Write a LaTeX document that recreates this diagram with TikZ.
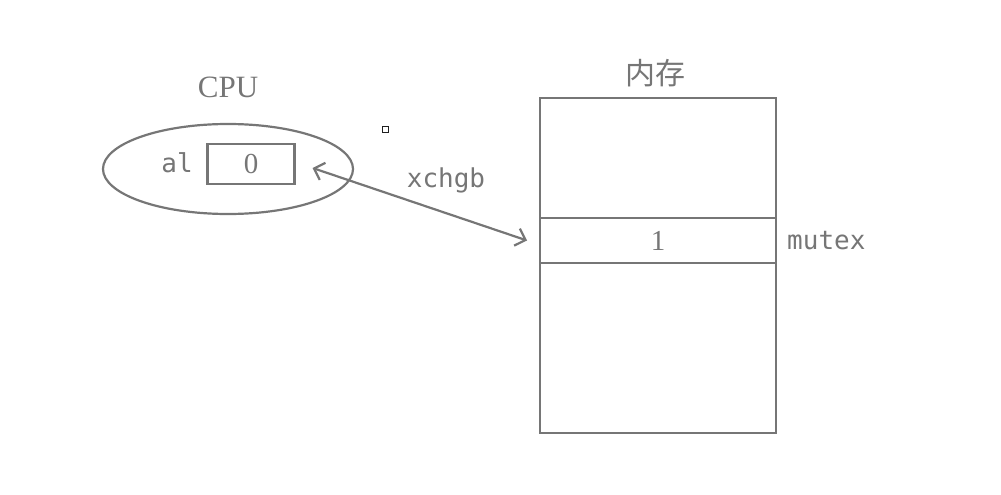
\documentclass[tikz,border=0pt]{standalone}
\usepackage{fontspec}
\setmainfont{Liberation Serif}
\setmonofont{DejaVu Sans Mono}
\newfontfamily\cjk{Noto Sans CJK SC}
\usetikzlibrary{arrows.meta, positioning, shapes.geometric}
\definecolor{ink}{HTML}{767676}
\definecolor{handle}{HTML}{202020}
\tikzset{
  %
  cpubox/.style={draw=ink, line width=2.2pt, ellipse, inner sep=0pt,
                 minimum width=250pt, minimum height=90pt},
  reg/.style={draw=ink, line width=2.2pt, inner sep=0pt, text=ink,
              minimum width=87pt, minimum height=40pt,
              font=\fontsize{29}{31}\selectfont},
  cell/.style={draw=ink, line width=2.2pt, inner sep=0pt, outer sep=0pt,
               text=ink, minimum width=236pt,
               font=\fontsize{29}{31}\selectfont},
  %
  lbl/.style={text=ink, inner sep=3pt, font=\fontsize{31}{33}\selectfont},
  code/.style={text=ink, inner sep=3pt, font=\ttfamily\fontsize{26}{28}\selectfont},
  %
  link/.style={draw=ink, line width=2.2pt,
               {Straight Barb[length=9pt, width=18pt]}-{Straight Barb[length=9pt, width=18pt]}},
}

\begin{document}
\begin{tikzpicture}[x=1pt, y=-1pt]
\useasboundingbox (0,0) rectangle (1001,495);

% ------------------------------------------------------------------- cpu
\node[cpubox] (cpu) at (228,169) {};
\node[lbl] (cpulbl) at (228,87) {CPU};
\node[reg] (al) at (251,164) {0};
\node[code] (alname) at (177,163) {al};

% ---------------------------------------------------------------- memory
\node[cell, minimum height=120pt] (top) at (658,158) {};
\node[cell, minimum height=45pt] (mutex) at (658,240.5) {1};
\node[cell, minimum height=170pt] (rest) at (658,348) {};
\node[lbl, font=\cjk\fontsize{30}{32}\selectfont] (memlbl) at (655,73) {内存};
\node[code, right=8pt of mutex] (mutexname) {mutex};

% ------------------------------------------------------------------ swap
\draw[link] ([xshift=17pt, yshift=-4pt]al.east) -- ([xshift=-13pt]mutex.west);
\node[code] (op) at (446,180) {xchgb};

\node[draw=handle, line width=1pt, inner sep=0pt, minimum size=6pt] (mark) at (385,129) {};

\end{tikzpicture}
\end{document}
